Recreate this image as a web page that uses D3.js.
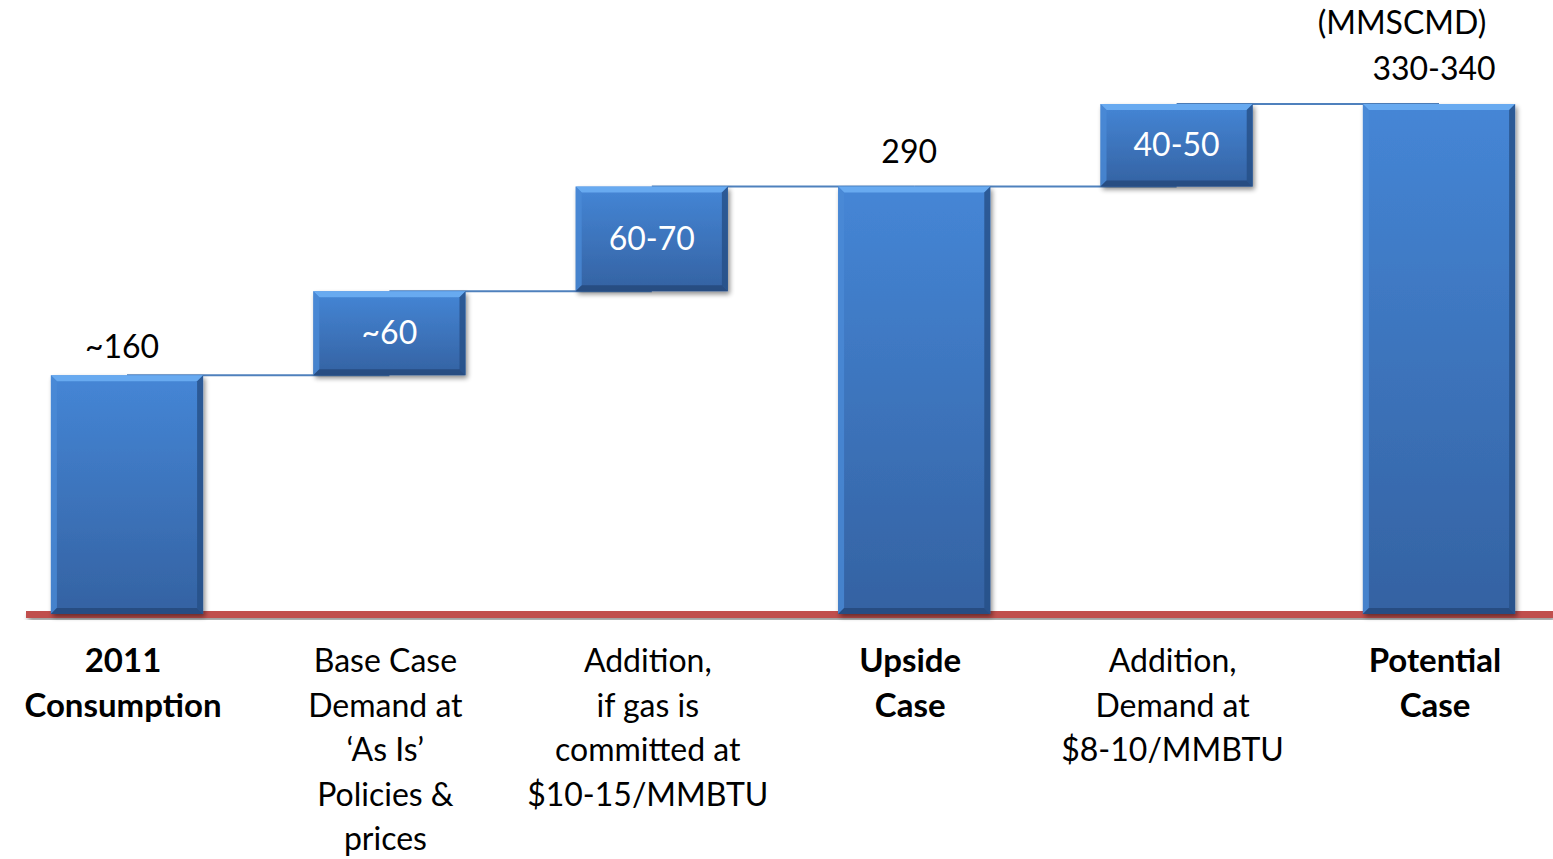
<!DOCTYPE html>
<html><head><meta charset="utf-8">
<script src="https://cdn.jsdelivr.net/npm/d3@7"></script>
<style>html,body{margin:0;padding:0;background:#fff;}svg{display:block;}</style>
</head><body>
<svg id="chart" width="1553" height="859"></svg>
<script>
// Data
const categories = ["2011 Consumption", "Base Case Demand at 'As Is' Policies & prices", "Addition, if gas is committed at $10-15/MMBTU", "Upside Case", "Addition, Demand at $8-10/MMBTU", "Potential Case"];
const categoryLines = [
  ["2011", "Consumption"],
  ["Base Case", "Demand at", "\u2018As Is\u2019", "Policies &", "prices"],
  ["Addition,", "if gas is", "committed at", "$10-15/MMBTU"],
  ["Upside", "Case"],
  ["Addition,", "Demand at", "$8-10/MMBTU"],
  ["Potential", "Case"]
];
const boldCategory = [true, false, false, true, false, true];
const barStart = [0, 162, 219, 0, 290, 0];
const barEnd   = [162, 219, 290, 290, 346, 346];
const valueLabels = ["~160", "~60", "60-70", "290", "40-50", "330-340"];
const labelInside = [false, true, true, false, true, false];
const unitLabel = "(MMSCMD)";

const svg = d3.select("#chart");
const font = "Lato, 'Open Sans', sans-serif";

const x = d3.scaleBand().domain(categories).range([-4.2, 1570.2]).paddingInner(0.42).paddingOuter(0.21);
const y = d3.scaleLinear().domain([0, 346]).range([614, 104]);

const defs = svg.append("defs");
const g = defs.append("linearGradient").attr("id","barGrad").attr("x1",0).attr("y1",0).attr("x2",0).attr("y2",1);
g.append("stop").attr("offset","0%").attr("stop-color","#4586d6");
g.append("stop").attr("offset","100%").attr("stop-color","#3462a2");
const f = defs.append("filter").attr("id","shadow").attr("x","-20%").attr("y","-20%").attr("width","140%").attr("height","140%");
f.append("feGaussianBlur").attr("in","SourceAlpha").attr("stdDeviation",2.5).attr("result","b");
f.append("feOffset").attr("in","b").attr("dx",2).attr("dy",3).attr("result","o");
f.append("feComponentTransfer").attr("in","o").attr("result","o2").append("feFuncA").attr("type","linear").attr("slope",0.45);
const m = f.append("feMerge"); m.append("feMergeNode").attr("in","o2"); m.append("feMergeNode").attr("in","SourceGraphic");

// baseline
svg.append("rect").attr("x",26).attr("y",611).attr("width",1527).attr("height",7)
  .attr("fill","#c0504d").attr("filter","url(#shadow)");

// connectors
const cx = i => x(categories[i]) + x.bandwidth()/2;
for (let i = 0; i < categories.length - 1; i++) {
  svg.append("line").attr("x1",cx(i)).attr("x2",cx(i+1))
    .attr("y1",y(barEnd[i])).attr("y2",y(barEnd[i]))
    .attr("stroke","#4f81bd").attr("stroke-width",2);
}

// bars
const bars = svg.selectAll("g.bar").data(categories).join("g").attr("class","bar");
bars.each(function(c, i){
  const gg = d3.select(this);
  const x0 = x(c), w = x.bandwidth();
  const y0 = y(barEnd[i]), y1 = y(barStart[i]), h = y1 - y0;
  const b = 6;
  gg.append("rect").attr("x",x0).attr("y",y0).attr("width",w).attr("height",h)
    .attr("fill","url(#barGrad)").attr("filter","url(#shadow)");
  gg.append("path").attr("d",`M${x0},${y0}L${x0+w},${y0}L${x0+w-b},${y0+b}L${x0+b},${y0+b}Z`).attr("fill","#6fb0f5").attr("opacity",0.85);
  gg.append("path").attr("d",`M${x0},${y0}L${x0+b},${y0+b}L${x0+b},${y1-b}L${x0},${y1}Z`).attr("fill","#4a8ad6").attr("opacity",0.8);
  gg.append("path").attr("d",`M${x0+w},${y0}L${x0+w},${y1}L${x0+w-b},${y1-b}L${x0+w-b},${y0+b}Z`).attr("fill","#254f86").attr("opacity",0.8);
  gg.append("path").attr("d",`M${x0},${y1}L${x0+b},${y1-b}L${x0+w-b},${y1-b}L${x0+w},${y1}Z`).attr("fill","#24497c").attr("opacity",0.85);
});

// value labels
categories.forEach((c, i) => {
  const xc = cx(i);
  if (labelInside[i]) {
    svg.append("text").attr("x",xc).attr("y",(y(barStart[i])+y(barEnd[i]))/2)
      .attr("dy","0.35em").attr("text-anchor","middle").attr("fill","#fff")
      .attr("font-family",font).attr("font-size",32).text(valueLabels[i]);
  } else {
    svg.append("text").attr("x",xc - 5).attr("y",y(barEnd[i]) - (i === 0 ? 17 : 24))
      .attr("text-anchor","middle").attr("fill","#000")
      .attr("font-family",font).attr("font-size",32).text(valueLabels[i]);
  }
});
svg.append("text").attr("x",cx(5) - 37).attr("y",y(barEnd[5]) - 70)
  .attr("text-anchor","middle").attr("fill","#000").attr("font-family",font).attr("font-size",32).text(unitLabel);

// category labels
categories.forEach((c, i) => {
  const t = svg.append("text").attr("text-anchor","middle").attr("font-family",font)
    .attr("font-size", boldCategory[i] ? 33 : 32).attr("font-weight", boldCategory[i] ? "bold" : "normal").attr("fill","#000");
  categoryLines[i].forEach((ln, k) => {
    t.append("tspan").attr("x", cx(i) - 4).attr("y", 672 + k*44.5).text(ln);
  });
});
</script>
</body></html>
